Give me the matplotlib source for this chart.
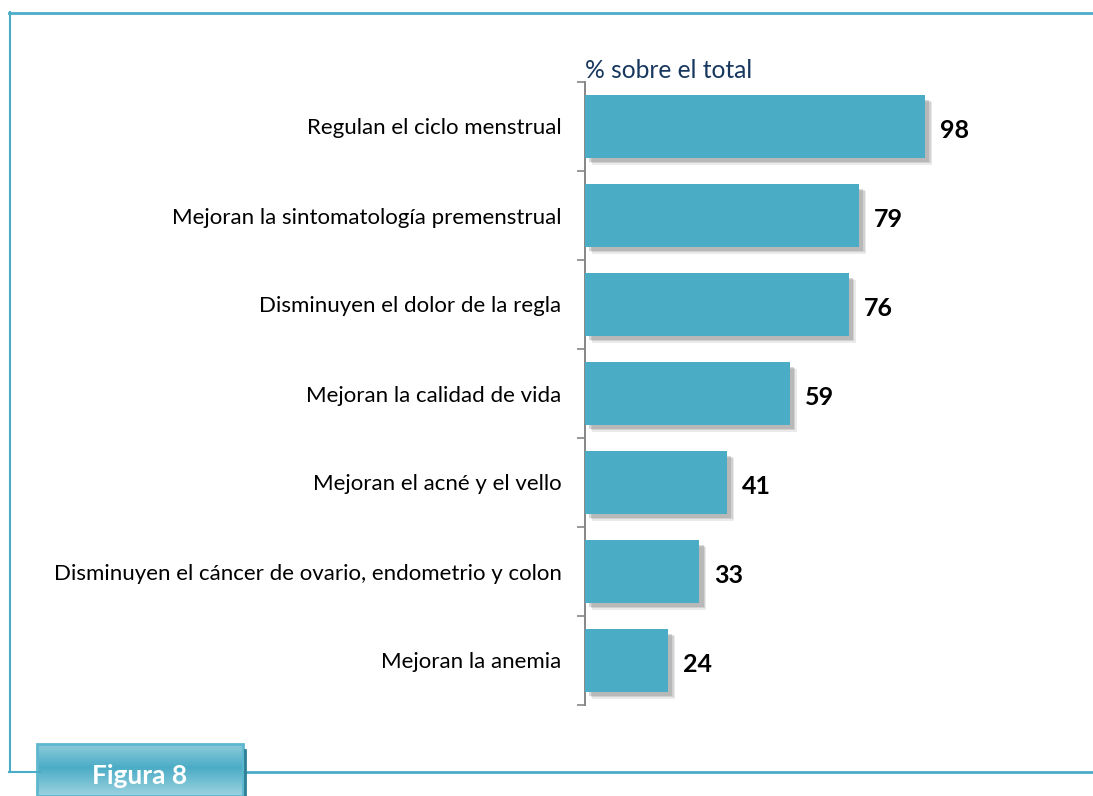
import matplotlib
matplotlib.use("Agg")
import matplotlib.pyplot as plt
import numpy as np
from matplotlib.lines import Line2D
from matplotlib.patches import Rectangle
import matplotlib.patheffects as pe

categories = [
    "Regulan el ciclo menstrual",
    "Mejoran la sintomatología premenstrual",
    "Disminuyen el dolor de la regla",
    "Mejoran la calidad de vida",
    "Mejoran el acné y el vello",
    "Disminuyen el cáncer de ovario, endometrio y colon",
    "Mejoran la anemia",
]
values = [98, 79, 76, 59, 41, 33, 24]
title = "% sobre el total"
figure_label = "Figura 8"

plt.rcParams['font.family'] = ['Lato', 'DejaVu Sans']

W, H = 1093, 796
fig = plt.figure(figsize=(W / 100, H / 100), dpi=100)

def fx(x):
    return x / W

def fy(y):
    return 1 - y / H

frame_c = "#4BACC6"
# frame lines
fig.add_artist(Line2D([fx(9), fx(W)], [fy(12.5), fy(12.5)], color=frame_c, lw=2))
fig.add_artist(Line2D([fx(9.5), fx(9.5)], [fy(12), fy(772)], color=frame_c, lw=1.5))
fig.add_artist(Line2D([fx(9), fx(40)], [fy(772), fy(772)], color=frame_c, lw=1.5))
fig.add_artist(Line2D([fx(244), fx(W)], [fy(772), fy(772)], color=frame_c, lw=2))

ax = fig.add_axes([fx(585), fy(705), fx(1060) - fx(585), fy(82) - fy(705)])
y = np.arange(len(categories))
bar_c = "#4BACC6"
bars = ax.barh(y, values, height=0.7, color=bar_c, zorder=3)
for b in bars:
    b.set_path_effects([pe.SimplePatchShadow(offset=(5, -5), shadow_rgbFace="#9a9a9a", alpha=0.2),
                        pe.SimplePatchShadow(offset=(4, -4), shadow_rgbFace="#8a8a8a", alpha=0.25),
                        pe.SimplePatchShadow(offset=(3, -3), shadow_rgbFace="#7f7f7f", alpha=0.3),
                        pe.Normal()])

px_per_unit = 340 / 98
ax.set_xlim(0, (1060 - 585) / px_per_unit)
ax.set_ylim(len(categories) - 0.5, -0.5)

for yi, v in zip(y, values):
    ax.text(v + 4.3, yi + 0.04, str(v), va="center", ha="left",
            fontsize=18, fontweight="bold", color="black")

ax.set_yticks(y)
ax.set_yticklabels(categories, fontsize=16, color="black")
ax.tick_params(axis="y", which="major", length=0, pad=17)
ax.set_yticks(np.arange(-0.5, len(categories)), minor=True)
ax.tick_params(axis="y", which="minor", length=5.5, width=1.2, color="#868686", direction="out")
ax.set_xticks([])
for s in ["top", "right", "bottom"]:
    ax.spines[s].set_visible(False)
ax.spines["left"].set_color("#868686")
ax.spines["left"].set_linewidth(1.4)
ax.patch.set_alpha(0)

fig.text(fx(585), fy(70), title, fontsize=17.7, color="#17375E", ha="left", va="center")

# Figura box with gradient
bax = fig.add_axes([fx(37), 0, fx(243) - fx(37), fy(744)])
grad = np.linspace(0, 1, 100)
t = np.abs(grad - 0.45) / 0.55
light = np.array([0x9C, 0xD3, 0xE0]) / 255
dark = np.array([0x4B, 0xAC, 0xC6]) / 255
cols = dark[None, :] * (1 - t[:, None]) + light[None, :] * t[:, None]
img = np.repeat(cols[:, None, :], 10, axis=1)
bax.imshow(img, aspect="auto", extent=[0, 1, 0, 1])
bax.set_xlim(0, 1)
bax.set_ylim(0, 1)
bax.axis("off")
bax.add_patch(Rectangle((0, 0), 1, 1, fill=False, edgecolor="#5DB8CF", lw=2, transform=bax.transAxes, clip_on=False))
fig.add_artist(Line2D([fx(244.5), fx(244.5)], [0, fy(750)], color="#2E7F95", lw=2))
fig.text(fx(140), fy(776), figure_label, fontsize=19, fontweight="bold", color="white",
         ha="center", va="center")

fig.savefig("out.png", dpi=100)
